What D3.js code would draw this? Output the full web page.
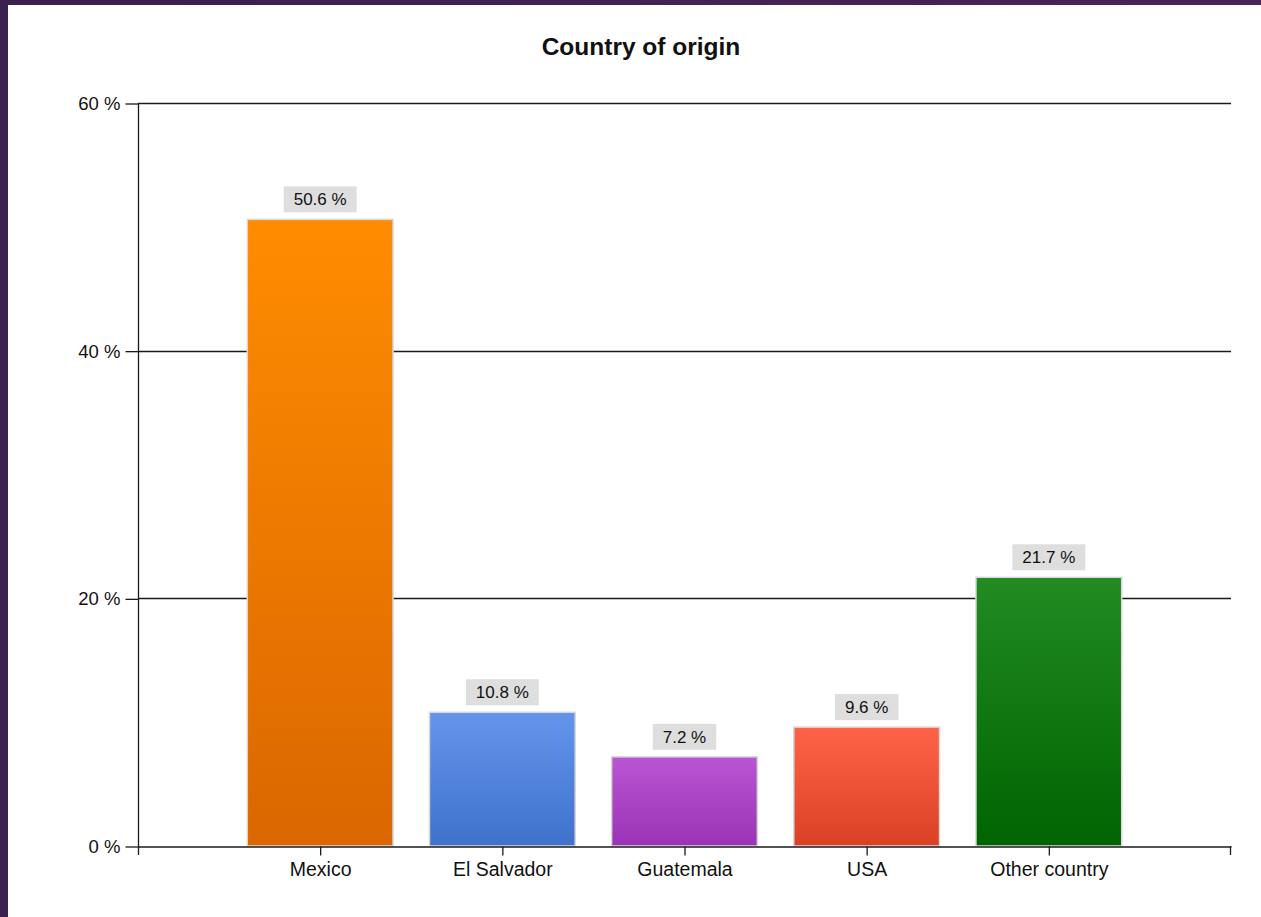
<!DOCTYPE html>
<html>
<head>
<meta charset="utf-8">
<script src="https://cdn.jsdelivr.net/npm/d3@7"></script>
<style>
  html, body { margin: 0; padding: 0; background: #fff; }
  svg { display: block; }
  text { font-family: "Liberation Sans", Arial, sans-serif; fill: #111; }
</style>
</head>
<body>
<svg id="chart" width="1261" height="917"></svg>
<script>
const categories = ["Mexico", "El Salvador", "Guatemala", "USA", "Other country"];
const values = [50.6, 10.8, 7.2, 9.6, 21.7];
const topColors = ["#FF8C00", "#6495ED", "#BA55D3", "#FF6347", "#228B22"];
const bottomColors = ["#DA6700", "#3F72CB", "#9A33B6", "#DA4124", "#006400"];
const yTicks = [0, 20, 40, 60];
const title = "Country of origin";

(function draw() {
const svg = d3.select("#chart");
const W = 1261, H = 917;
const defs = svg.append("defs");

// page frame
const frame = defs.append("linearGradient").attr("id", "frame").attr("x1", 0).attr("x2", 1).attr("y1", 0).attr("y2", 0);
frame.append("stop").attr("offset", "0").attr("stop-color", "#3a214f");
frame.append("stop").attr("offset", "1").attr("stop-color", "#4a2358");
svg.append("rect").attr("x", 0).attr("y", 0).attr("width", W).attr("height", H).attr("fill", "url(#frame)");
svg.append("rect").attr("x", 8).attr("y", 5).attr("width", W - 8).attr("height", H - 5).attr("fill", "#fff");

const pLeft = 138, pRight = 1231, pTop = 103, pBottom = 846;
const x = d3.scalePoint().domain(categories).range([pLeft, pRight]).padding(1);
const y = d3.scaleLinear().domain([0, 60]).range([pBottom, pTop]);
const barW = x.step() * 0.8;

categories.forEach((c, i) => {
  const g = defs.append("linearGradient").attr("id", "grad" + i).attr("x1", 0).attr("x2", 0).attr("y1", 0).attr("y2", 1);
  g.append("stop").attr("offset", "0").attr("stop-color", topColors[i]);
  g.append("stop").attr("offset", "1").attr("stop-color", bottomColors[i]);
});

// title
svg.append("text").attr("x", 641).attr("y", 55).attr("text-anchor", "middle")
  .style("font-size", "24.5px").style("font-weight", "bold").text(title);

// gridlines (behind bars)
svg.append("g").selectAll("line").data(yTicks.filter(d => d > 0)).join("line")
  .attr("x1", pLeft).attr("x2", pRight)
  .attr("y1", d => Math.round(y(d)) + 0.5).attr("y2", d => Math.round(y(d)) + 0.5)
  .attr("stroke", "#1a1a1a").attr("stroke-width", 1.3);

// y axis
const yAxis = d3.axisLeft(y).tickValues(yTicks).tickFormat(d => d + " %").tickSize(13).tickPadding(5);
const gy = svg.append("g").attr("transform", `translate(${pLeft + 0.5},0.5)`).call(yAxis);
gy.select(".domain").remove();
gy.selectAll(".tick line").attr("stroke", "#1a1a1a").attr("stroke-width", 1.3);
gy.selectAll(".tick text").style("font-size", "18.5px").style("font-family", "'Liberation Sans', Arial, sans-serif").attr("fill", "#111");
svg.append("line").attr("x1", pLeft + 0.5).attr("x2", pLeft + 0.5).attr("y1", pTop).attr("y2", pBottom + 9)
  .attr("stroke", "#1a1a1a").attr("stroke-width", 1.3);

// bars
svg.append("g").selectAll("rect").data(values).join("rect")
  .attr("x", (d, i) => x(categories[i]) - barW / 2)
  .attr("y", d => y(d))
  .attr("width", barW)
  .attr("height", d => pBottom - y(d))
  .attr("fill", (d, i) => `url(#grad${i})`)
  .attr("stroke", "#d8d8d8").attr("stroke-width", 1.5);

// x axis
const xAxis = d3.axisBottom(x).tickSize(9).tickSizeOuter(0).tickPadding(7);
const gx = svg.append("g").attr("transform", `translate(0,${pBottom + 0.5})`).call(xAxis);
gx.select(".domain").attr("stroke", "#1a1a1a").attr("stroke-width", 1.3);
gx.selectAll(".tick line").attr("stroke", "#1a1a1a").attr("stroke-width", 1.3);
gx.selectAll(".tick text").style("font-size", "19.5px").style("font-family", "'Liberation Sans', Arial, sans-serif").attr("fill", "#111");
svg.append("line").attr("x1", pRight - 0.5).attr("x2", pRight - 0.5).attr("y1", pBottom).attr("y2", pBottom + 9)
  .attr("stroke", "#1a1a1a").attr("stroke-width", 1.3);

// value labels
const lab = svg.append("g").selectAll("g").data(values).join("g")
  .attr("transform", (d, i) => `translate(${x(categories[i])},${y(d) - 7})`);
lab.each(function(d) {
  const g = d3.select(this);
  const rect = g.append("rect").attr("fill", "#dedede");
  const t = g.append("text").attr("text-anchor", "middle").attr("y", -7)
    .style("font-size", "17px").text(d.toFixed(1) + " %");
  const bb = t.node().getBBox();
  const w = bb.width + 20, h = 26;
  rect.attr("x", -w / 2).attr("y", -h).attr("width", w).attr("height", h);
});
})();
</script>
</body>
</html>
